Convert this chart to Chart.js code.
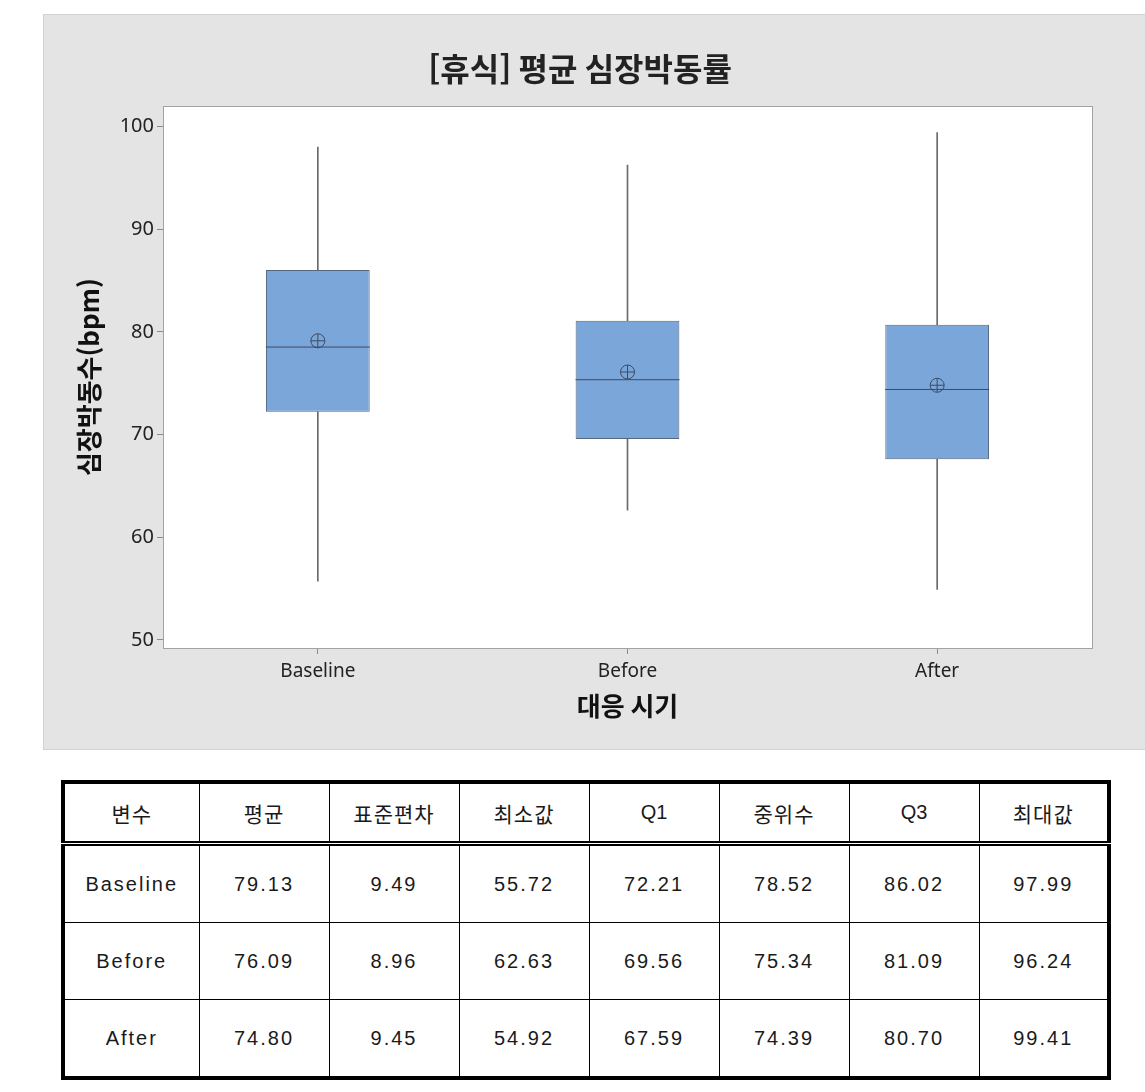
<!DOCTYPE html>
<html lang="ko">
<head>
<meta charset="utf-8">
<script src="https://cdn.jsdelivr.net/npm/chart.js@4.4.1/dist/chart.umd.min.js"></script>
<style>
  body { margin: 0; background: #fff; width: 1145px; height: 1092px; position: relative; overflow: hidden; }
  #panel { position: absolute; left: 43px; top: 14px; width: 1101px; height: 734px; background: #e4e4e4; border: 1px solid #d2d2d2; }
  #stats { position: absolute; left: 61px; top: 780px; width: 1045px; border-collapse: collapse; border: 4px solid #000; table-layout: fixed; }
  #stats td { border: 1.5px solid #000; text-align: center; vertical-align: middle; padding: 0; color: #1a1a1a;
    font-family: "Liberation Sans", "Noto Sans CJK KR", sans-serif; font-size: 20px; letter-spacing: 2px; }
  #stats tr.head td { height: 57px; border-bottom: 5px double #000; font-family: "Noto Sans CJK KR", sans-serif; font-size: 21px; letter-spacing: 1px; }
  #stats tr.head td.latin { font-family: "Liberation Sans", sans-serif; font-size: 20px; letter-spacing: 0; }
  #stats tr.row td { height: 76px; }
</style>
</head>
<body>
<div id="panel"><canvas id="boxChart" width="1101" height="734"></canvas></div>
<table id="stats"></table>
<script>
const categories = ['Baseline', 'Before', 'After'];
const means = [79.13, 76.09, 74.80];
const stdDevs = [9.49, 8.96, 9.45];
const mins = [55.72, 62.63, 54.92];
const q1s = [72.21, 69.56, 67.59];
const medians = [78.52, 75.34, 74.39];
const q3s = [86.02, 81.09, 80.70];
const maxs = [97.99, 96.24, 99.41];
const yTicks = [50, 60, 70, 80, 90, 100];
const headers = ['변수', '평균', '표준편차', '최소값', 'Q1', '중위수', 'Q3', '최대값'];

// table under the chart
function buildTable() {
  const table = document.getElementById('stats');
  const widths = [136, 130, 130, 130, 130, 130, 130, 130];
  let html = '<colgroup>' + widths.map((w) => `<col style="width:${w}px">`).join('') + '</colgroup>';
  html += '<tr class="head">' + headers.map((h) => `<td class="${/^[A-Z]/.test(h) ? 'latin' : ''}">${h}</td>`).join('') + '</tr>';
  categories.forEach((name, i) => {
    const cells = [name, means[i], stdDevs[i], mins[i], q1s[i], medians[i], q3s[i], maxs[i]]
      .map((v, j) => `<td>${j === 0 ? v : v.toFixed(2)}</td>`).join('');
    html += `<tr class="row">${cells}</tr>`;
  });
  table.innerHTML = html;
}
buildTable();

const plotFrame = {
  id: 'plotFrame',
  beforeDraw(chart) {
    const { ctx, chartArea: a } = chart;
    ctx.save();
    ctx.fillStyle = '#ffffff';
    ctx.fillRect(a.left, a.top, a.right - a.left, a.bottom - a.top);
    ctx.restore();
  },
  afterDraw(chart) {
    const { ctx, chartArea: a } = chart;
    ctx.save();
    ctx.strokeStyle = '#a3a3a3';
    ctx.lineWidth = 1;
    ctx.strokeRect(Math.round(a.left) + 0.5, Math.round(a.top) + 0.5, Math.round(a.right - a.left), Math.round(a.bottom - a.top));
    ctx.restore();
  },
};

const lineColor = '#3d4b62';
const whisker = (data) => ({
  type: 'bar', data, backgroundColor: '#6a6a6a', barThickness: 1, grouped: false, order: 4,
});
const markers = (data, style) => ({
  type: 'line', data, showLine: false, pointStyle: style, pointRadius: 7,
  pointBackgroundColor: 'rgba(0,0,0,0)', pointBorderColor: lineColor, pointBorderWidth: 1, borderColor: lineColor, order: 1,
});

new Chart(document.getElementById('boxChart'), {
  type: 'bar',
  data: {
    labels: categories,
    datasets: [
      whisker(categories.map((_, i) => [mins[i], q1s[i]])),
      whisker(categories.map((_, i) => [q3s[i], maxs[i]])),
      {
        type: 'bar',
        data: categories.map((_, i) => [q1s[i], q3s[i]]),
        backgroundColor: '#7ba6d9', borderColor: '#55667f', borderWidth: 1, borderSkipped: false,
        barPercentage: 0.335, categoryPercentage: 1, grouped: false, order: 3,
      },
      {
        type: 'line', data: medians, showLine: false, pointStyle: 'line', pointRadius: 52,
        pointBorderColor: lineColor, pointBorderWidth: 1, borderColor: lineColor, order: 2,
      },
      markers(means, 'circle'),
      markers(means, 'cross'),
    ],
  },
  options: {
    responsive: false,
    animation: false,
    events: [],
    layout: { padding: { left: 20, right: 49, top: 0, bottom: 20 } },
    plugins: {
      legend: { display: false },
      tooltip: { enabled: false },
      title: {
        display: true, text: '[휴식] 평균 심장박동률', color: '#222',
        font: { family: 'Noto Sans CJK KR', size: 32, weight: 'bold' },
        padding: { top: 35, bottom: 18 },
      },
    },
    scales: {
      x: {
        offset: true,
        grid: { drawOnChartArea: false, offset: false, tickLength: 6, tickColor: '#8a8a8a' },
        border: { color: '#a3a3a3' },
        ticks: { color: '#222', padding: 6, font: { family: 'Noto Sans', size: 19 } },
        title: {
          display: true, text: '대응 시기', color: '#111',
          font: { family: 'Noto Sans CJK KR', size: 26, weight: 'bold' },
          padding: { top: 4, bottom: 7 },
        },
        afterFit: (s) => { s.height = 81; },
      },
      y: {
        min: 49.22,
        max: 101.95,
        afterBuildTicks: (s) => { s.ticks = yTicks.map((v) => ({ value: v })); },
        grid: { drawOnChartArea: false, tickLength: 6, tickColor: '#8a8a8a' },
        border: { color: '#a3a3a3' },
        ticks: { color: '#222', padding: 3, font: { family: 'Noto Sans', size: 20 } },
        title: {
          display: true, text: '심장박동수(bpm)', color: '#111',
          font: { family: 'Noto Sans CJK KR', size: 26, weight: 'bold' },
          padding: { top: 10, bottom: 4 },
        },
        afterFit: (s) => { s.width = 99; },
      },
    },
  },
  plugins: [plotFrame],
});
</script>
</body>
</html>
